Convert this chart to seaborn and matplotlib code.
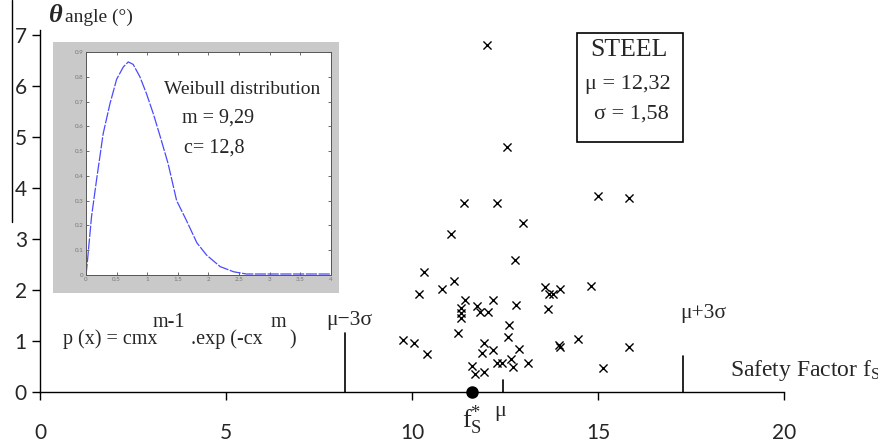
import numpy as np
import pandas as pd
import matplotlib
matplotlib.use("Agg")
import matplotlib.pyplot as plt
import seaborn as sns
from matplotlib.patches import Rectangle
from matplotlib.lines import Line2D

# scatter data: safety factor vs angle
fs = [11.40, 12.28, 12.98, 11.05, 12.77, 10.32, 11.13, 10.19, 10.81, 11.42,
      12.18, 11.75, 11.32, 11.83, 12.04, 12.80, 11.32, 11.32, 13.58, 13.79,
      13.98, 13.68, 14.81, 13.66, 12.61, 12.58, 11.24, 9.76, 10.05, 10.40,
      11.94, 11.88, 12.18, 12.88, 13.95, 13.98, 14.46, 15.83, 11.61, 11.69,
      11.94, 12.28, 12.42, 12.66, 12.72, 13.12, 15.13, 12.02, 12.55, 15.00,
      15.83]
angle = [3.71, 3.71, 3.31, 3.10, 2.59, 2.35, 2.18, 1.92, 2.02, 1.80,
         1.80, 1.69, 1.65, 1.57, 1.57, 1.71, 1.55, 1.45, 2.06, 1.92,
         2.02, 1.92, 2.08, 1.63, 1.31, 1.08, 1.16, 1.02, 0.96, 0.75,
         0.96, 0.76, 0.82, 0.84, 0.92, 0.88, 1.04, 0.88, 0.51, 0.35,
         0.39, 0.57, 0.57, 0.65, 0.49, 0.57, 0.47, 6.80, 4.80, 3.84,
         3.80]

# reference lines (position, height)
ref_x = [8.2, 12.45, 17.28]
ref_h = [1.15, 0.24, 0.71]
fs_star = 11.62

# inset curve
wx = [0.0, 0.02, 0.09, 0.17, 0.28, 0.39, 0.50, 0.61, 0.69, 0.77, 0.88, 0.99,
      1.10, 1.21, 1.34, 1.48, 1.64, 1.81, 1.97, 2.19, 2.41, 2.62, 4.0]
wy = [0.0, 0.047, 0.235, 0.38, 0.57, 0.69, 0.79, 0.84, 0.86, 0.85, 0.80, 0.73,
      0.65, 0.56, 0.45, 0.30, 0.22, 0.13, 0.08, 0.034, 0.013, 0.004, 0.004]

sns.set_style("ticks")
plt.rcParams["font.family"] = ["Lato", "DejaVu Sans"]
plt.rcParams["mathtext.fontset"] = "custom"
plt.rcParams["mathtext.rm"] = "Liberation Serif"
plt.rcParams["mathtext.it"] = "Liberation Serif:italic"
serif = ["Liberation Serif", "DejaVu Serif"]

fig = plt.figure(figsize=(8.79, 4.41), dpi=100)
ax = fig.add_axes([0.0455, 0.111, 0.8464, 0.821])

df = pd.DataFrame({"fs": fs, "angle": angle})
sns.scatterplot(data=df, x="fs", y="angle", marker="x", color="black",
                s=34, linewidth=1.0, ax=ax, zorder=3)

for xv, hv in zip(ref_x, ref_h):
    ax.plot([xv, xv], [0, hv], color="black", lw=1.2)
ax.plot([fs_star], [0], "o", color="black", ms=8, clip_on=False, zorder=4)

ax.set_xlim(0, 20)
ax.set_ylim(0, 7.1)
ax.set_xticks([0, 5, 10, 15, 20])
ax.set_yticks(range(8))
ax.tick_params(axis="both", labelsize=15, length=6, width=1, color="black")
ax.tick_params(axis="x", pad=16)
ax.set_xlabel("")
ax.set_ylabel("")
sns.despine(ax=ax)
for sp in ["left", "bottom"]:
    ax.spines[sp].set_linewidth(1)
    ax.spines[sp].set_color("black")

# annotations
ax.text(8.31, 1.41, "μ−3σ", family=serif, fontsize=15.5, ha="center", va="center")
ax.text(17.2, 1.55, "μ+3σ", family=serif, fontsize=15.5, ha="left", va="center")
ax.text(18.55, 0.43, r"Safety Factor f$_\mathrm{S}$", family=serif, fontsize=17,
        ha="left", va="center")
ax.text(11.61, -0.55, r"f$^{*}_{\mathrm{S}}$", family=serif, fontsize=19,
        ha="center", va="center")
ax.text(12.37, -0.39, "μ", family=serif, fontsize=16, ha="center", va="center")

# formula
ax.text(0.62, 1.03, "p (x) = cmx", family=serif, fontsize=14.5, ha="left", va="center")
ax.text(3.02, 1.37, "m-1", family=serif, fontsize=14.5, ha="left", va="center")
ax.text(4.05, 1.03, ".exp (-cx", family=serif, fontsize=14.5, ha="left", va="center")
ax.text(6.2, 1.37, "m", family=serif, fontsize=14.5, ha="left", va="center")
ax.text(6.7, 1.03, ")", family=serif, fontsize=14.5, ha="left", va="center")

# STEEL box
ax.add_patch(Rectangle((14.44, 4.90), 2.84, 2.14, fill=False, ec="black",
                       lw=1.2, clip_on=False))
ax.text(15.83, 6.71, "STEEL", family=serif, fontsize=18.5, ha="center", va="center")
ax.text(15.80, 6.04, "μ = 12,32", family=serif, fontsize=16, ha="center", va="center")
ax.text(15.91, 5.45, "σ = 1,58", family=serif, fontsize=16, ha="center", va="center")

# y axis title
fig.text(56 / 879, 1 - 16 / 441, "θ", family=serif, fontsize=19, style="italic",
         weight="bold", ha="center", va="center")
fig.text(65 / 879, 1 - 17 / 441, "angle (°)", family=serif, fontsize=14,
         ha="left", va="center")

# stray line on the left edge
fig.add_artist(Line2D([12 / 879, 12 / 879], [1.0, 1 - 222 / 441], color="black", lw=1))

# inset with grey frame
fig.add_artist(Rectangle((53 / 879, 1 - 293 / 441), 286 / 879, 251 / 441,
                         transform=fig.transFigure, fc="#c9c9c9", ec="none", zorder=1))
ins = fig.add_axes([86 / 879, 1 - 275 / 441, 245 / 879, 223 / 441])
ins.set_zorder(2)
ins.set_facecolor("white")
ins.plot(wx, wy, color="#4a4aff", lw=0.9, ls=(0, (9, 1.2)))
ins.set_xlim(0, 4)
ins.set_ylim(0, 0.9)
ins.set_xticks(np.arange(0, 4.01, 0.5))
ins.set_xticklabels(["0", "0.5", "1", "1.5", "2", "2.5", "3", "3.5", "4"])
ins.set_yticks(np.arange(0, 0.91, 0.1))
ins.set_yticklabels(["0", "0.1", "0.2", "0.3", "0.4", "0.5", "0.6", "0.7", "0.8", "0.9"])
ins.tick_params(axis="both", direction="in", length=2.5, width=0.6, labelsize=4.5,
                labelcolor="#777777", color="#555555", pad=1.5,
                top=True, right=True)
for sp in ins.spines.values():
    sp.set_linewidth(0.7)
    sp.set_color("#555555")
ins.text(2.55, 0.747, "Weibull distribution", family=serif, fontsize=14,
         ha="center", va="center")
ins.text(1.57, 0.634, "m = 9,29", family=serif, fontsize=14.5, ha="left", va="center")
ins.text(1.60, 0.513, "c= 12,8", family=serif, fontsize=14.5, ha="left", va="center")

fig.savefig("out.png", dpi=100)
